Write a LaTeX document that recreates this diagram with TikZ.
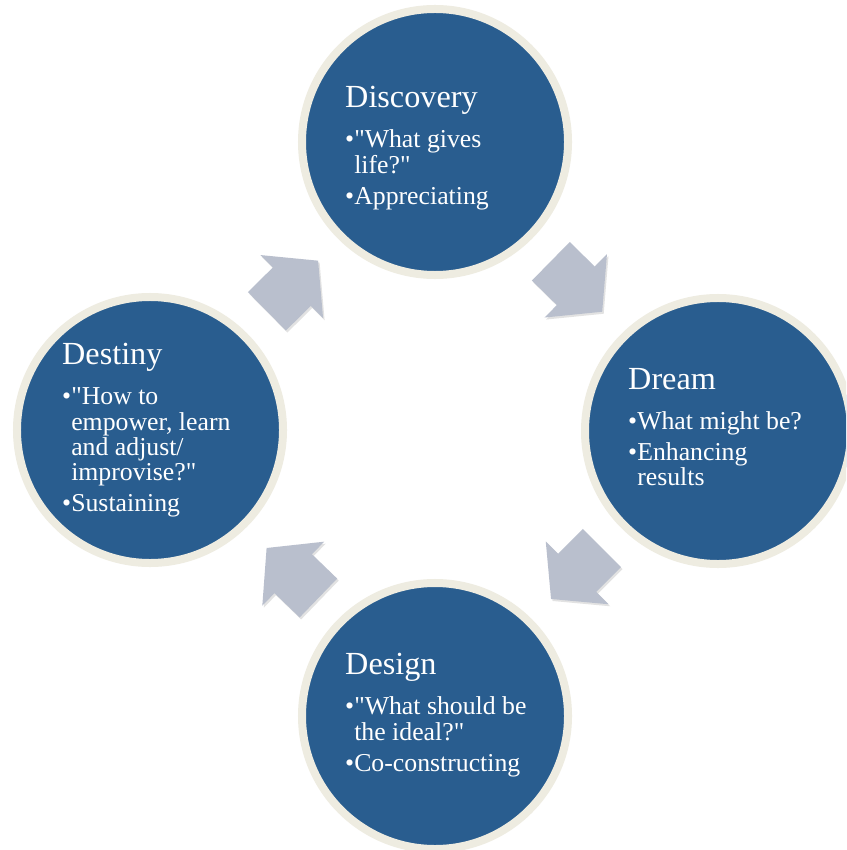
\documentclass[tikz,border=0pt]{standalone}
\usepackage{fontspec}
\setmainfont{Liberation Serif}[Ligatures=TeXOff]
\usetikzlibrary{calc}
\definecolor{phaseblue}{RGB}{41,93,143}
\definecolor{phaseedge}{RGB}{238,236,225}
\definecolor{arrowgray}{RGB}{185,191,205}
\tikzstyle{phase}=[circle,fill=phaseblue,draw=phaseedge,line width=0.24cm,minimum size=7.98cm,inner sep=0pt]
\tikzstyle{phasetext}=[anchor=north west,text width=6cm,align=flush left,text=white,inner sep=0pt,font=\fontsize{22}{21.5}\selectfont]
\tikzstyle{cyclearrow}=[fill=arrowgray]
\tikzstyle{arrowshade}=[fill=black!45,opacity=0.25]
\newlength{\bulletwd}
\newcommand{\phasetitle}[1]{{\fontsize{27.5}{33}\selectfont #1\par}\vspace{8pt}}
\newcommand{\phaseitem}[1]{\vspace{5pt}\settowidth{\bulletwd}{\textbullet}\hangindent=\bulletwd\hangafter=1\noindent\textbullet#1\par}
% block arrow halfway between two phases: from, to, angle
\newcommand{\phasearrow}[3]{%
  \fill[arrowshade,shift={($(#1)!0.5!(#2)+(1.5,2)$)},rotate=#3]
    (-36,-27) -- (-1,-27) -- (-1,-44.5) -- (36,0) -- (-1,44.5) -- (-1,27) -- (-36,27) -- cycle;
  \fill[cyclearrow,shift={($(#1)!0.5!(#2)$)},rotate=#3]
    (-36,-27) -- (-1,-27) -- (-1,-44.5) -- (36,0) -- (-1,44.5) -- (-1,27) -- (-36,27) -- cycle;}

\begin{document}
\begin{tikzpicture}[x=0.03cm,y=-0.03cm]
  \clip (0,0) rectangle (846,850);
  \fill[white] (0,0) rectangle (846,850);
  % the four phases
  \node[phase] (disc) at (435,142) {};
  \node[phase] (dream) at (718,431) {};
  \node[phase] (design) at (435,716) {};
  \node[phase] (destiny) at (150,430) {};
  % arrows round the cycle
  \phasearrow{disc}{dream}{-44.5}
  \phasearrow{dream}{design}{-135}
  \phasearrow{design}{destiny}{136}
  \phasearrow{destiny}{disc}{44.7}
  % texts
  \node[phasetext] (disctext) at ($(disc)+(-90,-56)$) {%
    \phasetitle{Discovery}
    \phaseitem{"What gives\newline life?"}
    \phaseitem{Appreciating}};
  \node[phasetext] (dreamtext) at ($(dream)+(-90,-63)$) {%
    \phasetitle{Dream}
    \phaseitem{What might be?}
    \phaseitem{Enhancing\newline results}};
  \node[phasetext] (designtext) at ($(design)+(-90,-63)$) {%
    \phasetitle{Design}
    \phaseitem{"What should be\newline the ideal?"}
    \phaseitem{Co-constructing}};
  \node[phasetext] (destinytext) at ($(destiny)+(-88,-87)$) {%
    \phasetitle{Destiny}
    \phaseitem{"How to\newline empower, learn\newline and adjust/\newline improvise?"}
    \phaseitem{Sustaining}};
\end{tikzpicture}
\end{document}
